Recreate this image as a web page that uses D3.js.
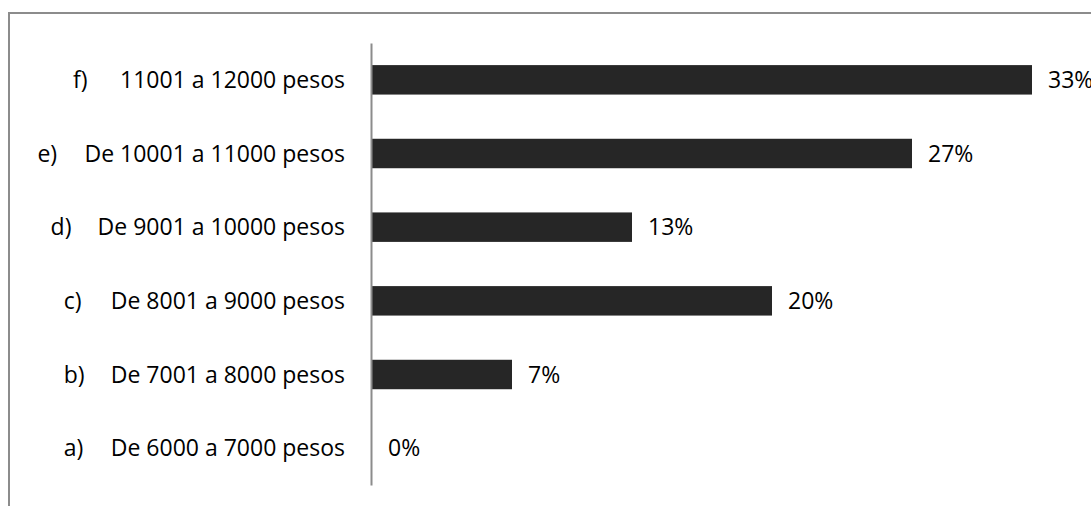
<!DOCTYPE html>
<html>
<head>
<meta charset="utf-8">
<script src="https://cdn.jsdelivr.net/npm/d3@7"></script>
<style>
  body { margin: 0; background: #fff; }
  text { font-family: "Open Sans", "Noto Sans", sans-serif; fill: #000; }
</style>
</head>
<body>
<svg width="1091" height="506"></svg>
<script>
// data, bottom to top as in the picture
const prefixes = ['a)', 'b)', 'c)', 'd)', 'e)', 'f)'];
const categories = ['De 6000 a 7000 pesos', 'De 7001 a 8000 pesos', 'De 8001 a 9000 pesos',
  'De 9001 a 10000 pesos', 'De 10001 a 11000 pesos', '11001 a 12000 pesos'];
const values = [0, 7, 20, 13, 27, 33];

const svg = d3.select('svg');
const width = +svg.attr('width');
const height = +svg.attr('height');

const rows = categories.map((c, i) => ({ prefix: prefixes[i], name: c, value: values[i] }));

// outer frame (only left and top edges show)
svg.append('path')
    .attr('d', `M9,${height} L9,13 L${width},13`)
    .attr('fill', 'none')
    .attr('stroke', '#8c8c8c')
    .attr('stroke-width', 2);

const x0 = 372;
const x = d3.scaleLinear().domain([0, 33]).range([x0, x0 + 660]);

const y = d3.scaleBand()
    .domain(categories.slice().reverse())
    .range([43, 485])
    .paddingInner(0.6)
    .paddingOuter(0.3);

const fontSize = 23;

// bars
svg.append('g').selectAll('rect')
    .data(rows)
    .join('rect')
    .attr('x', x(0))
    .attr('y', d => y(d.name))
    .attr('width', d => x(d.value) - x(0))
    .attr('height', y.bandwidth())
    .attr('fill', '#262626');

// axis line
const axis = svg.append('g')
    .attr('transform', `translate(${x0 - 1},0)`)
    .call(d3.axisLeft(y).tickSize(0).tickFormat(''));
axis.select('.domain').attr('stroke', '#8c8c8c').attr('stroke-width', 2);

// category labels
const labels = svg.append('g').selectAll('g')
    .data(rows)
    .join('g')
    .attr('transform', d => `translate(0,${y(d.name) + y.bandwidth() / 2})`);

labels.append('text')
    .attr('class', 'name')
    .attr('x', 345)
    .attr('dy', '0.36em')
    .attr('text-anchor', 'end')
    .style('font-size', fontSize + 'px')
    .text(d => d.name);

labels.each(function () {
  const g = d3.select(this);
  const w = g.select('text.name').node().getComputedTextLength();
  g.append('text')
      .attr('x', 345 - w - 47)
      .attr('dy', '0.36em')
      .style('font-size', fontSize + 'px')
      .text(d => d.prefix);
});

// value labels
svg.append('g').selectAll('text')
    .data(rows)
    .join('text')
    .attr('x', d => x(d.value) + 16)
    .attr('y', d => y(d.name) + y.bandwidth() / 2)
    .attr('dy', '0.36em')
    .style('font-size', fontSize + 'px')
    .text(d => d.value + '%');
</script>
</body>
</html>
